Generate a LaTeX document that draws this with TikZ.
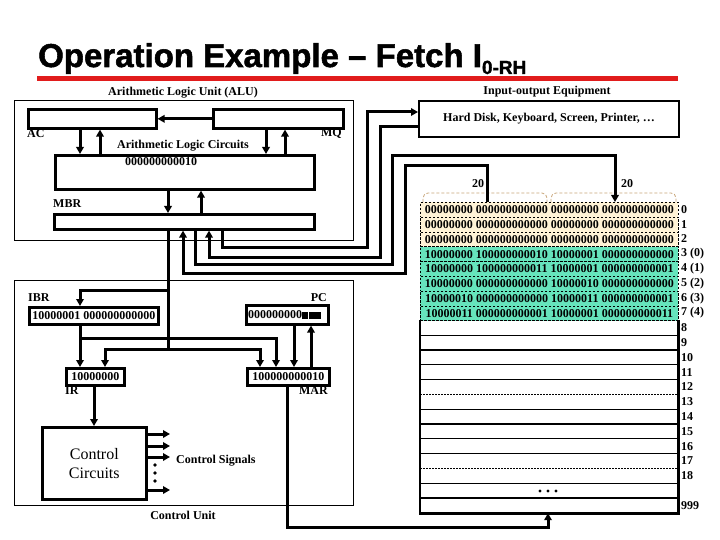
\documentclass[tikz,border=0pt]{standalone}
\usepackage{fontspec}
\setmainfont{Liberation Serif}
\newfontfamily\titlefont{Liberation Sans}[FakeBold=1.6]
\usetikzlibrary{arrows.meta,calc}
\definecolor{titlered}{RGB}{225,28,28}
\definecolor{cream}{RGB}{255,243,214}
\definecolor{mint}{RGB}{102,228,188}
\definecolor{tanc}{RGB}{200,165,120}
\begin{document}
\begin{tikzpicture}[x=1pt,y=-1pt,
  reg/.style={draw, line width=2.6pt, inner sep=0pt, anchor=north west, font=\fontsize{12}{12}\selectfont\bfseries},
  frame/.style={draw, line width=0.8pt, inner sep=0pt, anchor=north west},
  bus/.style={line width=3pt},
  arr/.style={bus, -{Triangle[length=7pt,width=7.5pt]}},
  lbl/.style={font=\fontsize{12}{12}\selectfont\bfseries, inner sep=0pt},
  rowbox/.style={draw, line width=0.7pt, dash pattern=on 2.5pt off 1.5pt, inner sep=0pt, anchor=north west,
    minimum width=258pt, minimum height=14.8pt, font=\fontsize{12}{12}\selectfont\bfseries},
  memlbl/.style={lbl, anchor=west},
]
\fill[white] (0,0) rectangle (720,540);
\useasboundingbox (0,0) rectangle (720,540);

% Title
\node[anchor=base west, inner sep=0pt, font=\titlefont\fontsize{33}{33}\selectfont\bfseries] (title) at (38,67)
  {Operation Example – Fetch I\raisebox{-7pt}{\fontsize{19}{19}\selectfont 0-RH}};
\draw[titlered, line width=5pt] (37,79) -- (678,79);

% ALU
\node[frame, minimum width=339pt, minimum height=140pt] (alu) at (14,100) {};
\node[lbl] (alulbl) at (183,93) {Arithmetic Logic Unit (ALU)};
\node[reg, minimum width=128pt, minimum height=19pt] (ac) at (27,108) {};
\node[reg, minimum width=130pt, minimum height=19pt] (mq) at (212,108) {};
\node[lbl, anchor=west] (aclbl) at (27,134) {AC};
\node[lbl, anchor=east] (mqlbl) at (342,134) {MQ};
\node[lbl] (alclbl) at (183,146) {Arithmetic Logic Circuits};
\node[reg, minimum width=259pt, minimum height=34pt] (alc) at (54,154) {};
\node[lbl, font=\fontsize{12}{12}\selectfont\bfseries] (alcval) at (161,162) {000000000010};
\node[lbl, anchor=west] (mbrlbl) at (53,204) {MBR};
\node[reg, minimum width=260pt, minimum height=15pt] (mbr) at (53,213) {};

\draw[arr] (mq.west) -- (ac.east);
\draw[arr] (80,0 |- ac.south) -- (80,0 |- alc.north);
\draw[arr] (100,0 |- alc.north) -- (100,0 |- ac.south);
\draw[arr] (266,0 |- mq.south) -- (266,0 |- alc.north);
\draw[arr] (285,0 |- alc.north) -- (285,0 |- mq.south);
\draw[arr] (168,0 |- alc.south) -- (168,0 |- mbr.north);
\draw[arr] (201,0 |- mbr.north) -- (201,0 |- alc.south);

% Control unit
\node[frame, minimum width=339pt, minimum height=225pt] (cu) at (14,280) {};
\node[lbl] (culbl) at (183,515) {Control Unit};
\node[lbl, anchor=west] (ibrlbl) at (28,298) {IBR};
\node[reg, minimum width=129pt, minimum height=17pt] (ibr) at (28,306) {10000001 000000000000};
\node[lbl, anchor=east] (pclbl) at (327,298) {PC};
\node[reg, minimum width=82pt, minimum height=19pt] (pc) at (245,304) {};
\node[lbl, anchor=west, font=\fontsize{12}{12}\selectfont\bfseries] (pcval) at ([xshift=3pt]pc.west)
  {000000000\rule{6pt}{7pt}\hspace{0.6pt}\rule{6pt}{7pt}\hspace{0.6pt}\rule{6pt}{7pt}};
\node[reg, minimum width=58pt, minimum height=17pt] (ir) at (65,367) {10000000};
\node[lbl, anchor=west] (irlbl) at (65,391) {IR};
\node[reg, minimum width=82pt, minimum height=17pt] (mar) at (246,367) {100000000010};
\node[lbl, anchor=east] (marlbl) at (328,391) {MAR};
\node[reg, minimum width=104pt, minimum height=72pt, align=center,
  font=\fontsize{16}{19}\selectfont] (cc) at (41,426) {Control\\Circuits};
\node[lbl, anchor=west] (cslbl) at (176,461) {Control Signals};

\draw[bus] (168,0 |- mbr.south) -- (168,349);
\draw[arr] (168,290) -- (80,290) -- (80,0 |- ibr.north);
\draw[arr] (168,349) -- (105,349) -- (105,0 |- ir.north);
\draw[arr] (168,349) -- (260,349) -- (260,0 |- mar.north);
\draw[arr] (80,0 |- ibr.south) -- (80,0 |- ir.north);
\draw[arr] (80,338) -- (276,338) -- (276,0 |- mar.north);
\draw[arr] (294,0 |- pc.south) -- (294,0 |- mar.north);
\draw[arr] (311,0 |- mar.north) -- (311,0 |- pc.south);
\draw[arr] (94,0 |- ir.south) -- (94,0 |- cc.north);
\foreach \yy in {434,446,457,490} \draw[arr] (cc.east |- 0,\yy) -- (170,\yy);
\foreach \yy in {465,473,481} \fill (155,\yy) circle (1.9pt);

% Input-output
\node[lbl] (iolbl) at (547,92) {Input-output Equipment};
\node[draw, line width=2pt, inner sep=0pt, anchor=north west, minimum width=260pt, minimum height=36pt,
  font=\fontsize{12}{12}\selectfont\bfseries] (io) at (418,100) {Hard Disk, Keyboard, Screen, Printer, \dots};

% Memory
\foreach \k/\txt in {0/{00000000 000000000000 00000000 000000000000},
                     1/{00000000 000000000000 00000000 000000000000},
                     2/{00000000 000000000000 00000000 000000000000}}
  \node[rowbox, fill=cream] (row\k) at (420,202+14.8*\k) {\txt};
\foreach \k/\txt in {3/{10000000 100000000010 10000001 000000000000},
                     4/{10000000 100000000011 10000001 000000000001},
                     5/{10000000 000000000000 10000010 000000000000},
                     6/{10000010 000000000000 10000011 000000000001},
                     7/{10000011 000000000001 10000001 000000000011}}
  \node[rowbox, fill=mint] (row\k) at (420,202+14.8*\k) {\txt};
\node[inner sep=0pt, anchor=north west, minimum width=258pt, minimum height=192.4pt] (mem) at (420,320.4) {};
\foreach \k in {9,10,11,12,14,15,16,17,19,20}
  \draw[line width=1.2pt] (420,202+14.8*\k) -- (678,202+14.8*\k);
\foreach \k in {13,18}
  \draw[line width=1.2pt, dash pattern=on 2pt off 1pt] (420,202+14.8*\k) -- (678,202+14.8*\k);
\draw[line width=2.6pt] (mem.north west) -- (mem.south west) -- (mem.south east) -- (mem.north east);
\foreach \xx in {540,548,556} \fill (\xx,491) circle (1.6pt);
\foreach \k/\txt in {0/0,1/1,2/2,3/3 (0),4/4 (1),5/5 (2),6/6 (3),7/7 (4),8/8,9/9,10/10,11/11,12/12,13/13,14/14,15/15,16/16,17/17,18/18,20/999}
  \node[memlbl] at (681,202+14.8*\k+7.4) {\txt};

\draw[tanc, line width=0.8pt, dash pattern=on 3pt off 2pt, rounded corners=5pt] (423,202) -- (423,193) -- (547,193) -- (547,202);
\draw[tanc, line width=0.8pt, dash pattern=on 3pt off 2pt, rounded corners=5pt] (551,202) -- (551,193) -- (676,193) -- (676,202);
\node[lbl] (w1) at (478,184) {20};
\node[lbl] (w2) at (627,184) {20};

% Buses between MBR, IO and memory
\draw[arr] (222,0 |- mbr.south) -- (222,247) -- (367,247) -- (367,112) -- (io.west |- 0,112);
\draw[arr] (io.west |- 0,127) -- (380,127) -- (380,257) -- (209,257) -- (209,0 |- mbr.south);
\draw[arr] (195,0 |- mbr.south) -- (195,264) -- (392,264) -- (392,156) -- (615,156) -- (615,0 |- row0.north);
\draw[arr] (487,0 |- row0.north) -- (487,166) -- (405,166) -- (405,273) -- (183,273) -- (183,0 |- mbr.south);
\draw[arr] (287,0 |- mar.south) -- (287,527) -- (548,527) -- (548,0 |- mem.south);
\end{tikzpicture}
\end{document}
